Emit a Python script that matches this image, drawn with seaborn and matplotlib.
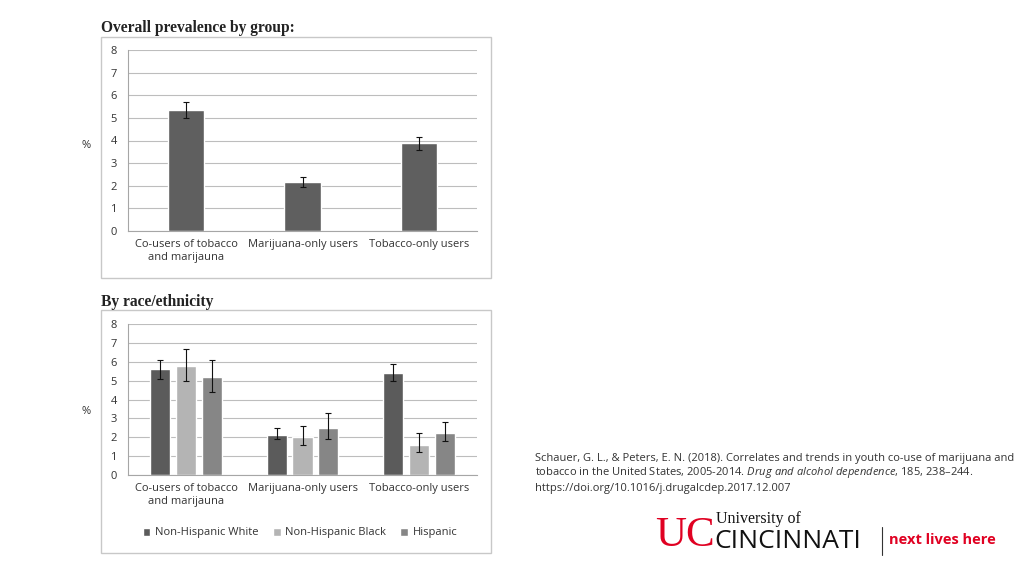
import pandas as pd
import numpy as np
import seaborn as sns
import matplotlib.pyplot as plt
from matplotlib.patches import Rectangle

# data
groups = ['Co-users of tobacco\nand marijauna', 'Marijuana-only users', 'Tobacco-only users']
overall = [5.35, 2.15, 3.9]
overall_lo = [5.0, 1.95, 3.6]
overall_hi = [5.7, 2.4, 4.15]

races = ['Non-Hispanic White', 'Non-Hispanic Black', 'Hispanic']
race_vals = [[5.6, 5.8, 5.2], [2.1, 2.0, 2.5], [5.4, 1.6, 2.2]]
race_lo = [[5.1, 5.0, 4.4], [1.9, 1.6, 1.9], [5.0, 1.2, 1.8]]
race_hi = [[6.1, 6.7, 6.1], [2.5, 2.6, 3.3], [5.9, 2.2, 2.8]]
race_colors = ['#5b5b5b', '#b4b4b4', '#868686']

yticks = list(range(0, 9))

W, H = 1024, 576
def fx(px): return px / W
def fy(py): return 1 - py / H

sns.set_theme(style='white')
plt.rcParams['font.family'] = ['Open Sans', 'DejaVu Sans']
plt.rcParams['mathtext.fontset'] = 'custom'
plt.rcParams['mathtext.rm'] = 'Open Sans'
plt.rcParams['mathtext.it'] = 'Open Sans:italic'

fig = plt.figure(figsize=(10.24, 5.76), dpi=100)
fig.patch.set_facecolor('white')

# outer frames
for (x0, y0, x1, y1) in [(101, 37, 491, 278), (101, 310, 491, 553)]:
    fig.patches.append(Rectangle((fx(x0), fy(y1)), fx(x1 - x0), (y1 - y0) / H,
                                 transform=fig.transFigure, fill=False,
                                 edgecolor='#c8c8c8', linewidth=1.0))

def style_axis(ax):
    ax.set_ylim(0, 8)
    ax.set_yticks(yticks)
    ax.yaxis.grid(True, color='#bdbdbd', linewidth=0.8)
    ax.set_axisbelow(True)
    for s in ['top', 'right']:
        ax.spines[s].set_visible(False)
    for s in ['left', 'bottom']:
        ax.spines[s].set_color('#a6a6a6')
        ax.spines[s].set_linewidth(0.8)
    ax.tick_params(axis='both', length=0, labelsize=8, colors='#333333', pad=8)
    ax.tick_params(axis='x', pad=6)
    ax.set_xlabel('')
    ax.set_ylabel('')
    ax.set_xlim(-0.5, 2.5)

# top chart
ax1 = fig.add_axes([fx(128), fy(231), fx(477 - 128), (231 - 50) / H])
df1 = pd.DataFrame({'group': groups, 'value': overall})
sns.barplot(data=df1, x='group', y='value', order=groups, color='#5f5f5f',
            width=0.31, errorbar=None, saturation=1, ax=ax1)
style_axis(ax1)
bars1 = list(ax1.containers[0])
for bar, lo, hi, v in zip(bars1, overall_lo, overall_hi, overall):
    xc = bar.get_x() + bar.get_width() / 2
    ax1.errorbar(xc, v, yerr=[[v - lo], [hi - v]], fmt='none', ecolor='#111111',
                 elinewidth=0.8, capsize=2.5, capthick=0.8)

# bottom chart
ax2 = fig.add_axes([fx(128), fy(475), fx(477 - 128), (475 - 324) / H])
rows = []
for g, vals in zip(groups, race_vals):
    for r, v in zip(races, vals):
        rows.append({'group': g, 'race': r, 'value': v})
df2 = pd.DataFrame(rows)
sns.barplot(data=df2, x='group', y='value', hue='race', order=groups, hue_order=races,
            palette=race_colors, width=0.67, gap=0.23, errorbar=None, saturation=1,
            legend=False, ax=ax2)
style_axis(ax2)
bar_conts = list(ax2.containers)
for k, cont in enumerate(bar_conts):
    for i, bar in enumerate(cont):
        v = race_vals[i][k]
        xc = bar.get_x() + bar.get_width() / 2
        ax2.errorbar(xc, v, yerr=[[v - race_lo[i][k]], [race_hi[i][k] - v]], fmt='none',
                     ecolor='#111111', elinewidth=0.8, capsize=2.5, capthick=0.8)

# legend
handles = [Rectangle((0, 0), 1, 1, facecolor=c) for c in race_colors]
fig.legend(handles, races, loc='center', bbox_to_anchor=(fx(300), fy(533)), ncol=3,
           frameon=False, fontsize=8, handlelength=0.7, handleheight=0.7,
           handletextpad=0.4, columnspacing=1.3, labelcolor='#333333')

# titles and % labels
fig.text(fx(101), fy(28), 'Overall prevalence by group:', family='Liberation Serif',
         fontweight='bold', fontsize=11.2, va='center', ha='left', color='#222222')
fig.text(fx(101), fy(302), 'By race/ethnicity', family='Liberation Serif',
         fontweight='bold', fontsize=11.2, va='center', ha='left', color='#222222')
fig.text(fx(86), fy(146), '%', fontsize=8, va='center', ha='center', color='#333333')
fig.text(fx(86), fy(411), '%', fontsize=8, va='center', ha='center', color='#333333')

# citation
cite_kw = dict(fontsize=8.0, va='center', ha='left', color='#333333', family='Open Sans')
fig.text(fx(535), fy(458), 'Schauer, G. L., & Peters, E. N. (2018). Correlates and trends in youth co-use of marijuana and', **cite_kw)
fig.text(fx(535), fy(473), 'tobacco in the United States, 2005-2014. $\\it{Drug\\ and\\ alcohol\\ dependence}$, $\\it{185}$, 238\u2013244.', **cite_kw)
fig.text(fx(535), fy(488), 'https://doi.org/10.1016/j.drugalcdep.2017.12.007', **cite_kw)

# UC logo (text approximation)
fig.text(fx(655), fy(536), 'UC', family='Liberation Serif', fontsize=31, color='#e00122',
         va='center', ha='left')
fig.text(fx(716), fy(519), 'University of', family='Liberation Serif', fontsize=11.5,
         color='#111111', va='center', ha='left')
fig.text(fx(714), fy(541), 'CINCINNATI', family='Open Sans', fontsize=19,
         color='#111111', va='center', ha='left')
fig.lines.append(plt.Line2D([fx(882), fx(882)], [fy(527), fy(555)],
                            transform=fig.transFigure, color='#333333', linewidth=0.8))
fig.text(fx(889), fy(540), 'next lives here', family='Open Sans', fontweight='bold',
         fontsize=10.5, color='#e00122', va='center', ha='left')

fig.savefig('out.png', dpi=100, facecolor='white')
